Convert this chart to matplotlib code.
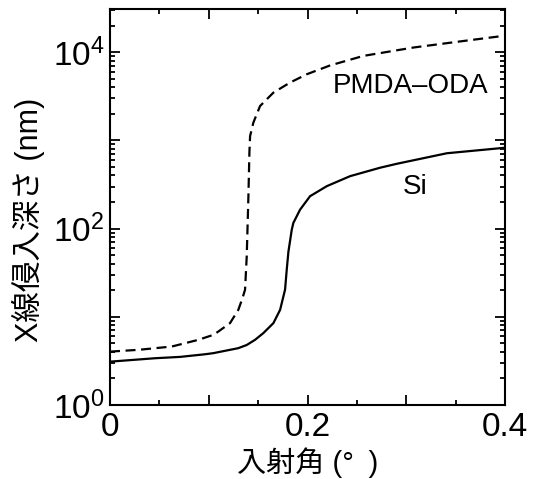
import numpy as np
import matplotlib.pyplot as plt
from matplotlib.ticker import FixedLocator, LogLocator, FuncFormatter, NullFormatter

plt.rcParams['font.family'] = ['Liberation Sans', 'Noto Sans CJK JP', 'DejaVu Sans']
plt.rcParams['mathtext.default'] = 'regular'

# incidence angle (deg) vs penetration depth (nm)
si_angle = [0, 0.0456, 0.0709, 0.0962, 0.1046, 0.1299, 0.1384, 0.1468, 0.1552, 0.1654,
            0.1722, 0.1755, 0.1772, 0.1789, 0.1806, 0.1840, 0.1856, 0.1924, 0.2025, 0.2195,
            0.2430, 0.2734, 0.2903, 0.3410, 0.4]
si_depth = [3.10, 3.39, 3.51, 3.76, 3.87, 4.41, 4.79, 5.48, 6.53, 8.48,
            12.0, 17.0, 20.3, 34.2, 54.8, 97.4, 116, 164, 233, 303,
            393, 490, 543, 715, 826]

pm_angle = [0, 0.0287, 0.0625, 0.0894, 0.1046, 0.1097, 0.1215, 0.1299, 0.1342,
            0.1367, 0.1384, 0.1401, 0.1411, 0.1418, 0.1451, 0.1519, 0.1654, 0.1823, 0.1992,
            0.2228, 0.2565, 0.3072, 0.3578, 0.4]
pm_depth = [4.03, 4.22, 4.60, 5.48, 6.24, 6.81, 8.48, 12.0, 16.4,
            20.3, 48.4, 233, 725, 1119, 1589, 2455, 3480, 4529, 5623,
            7080, 9080, 11300, 13400, 15400]

fig = plt.figure(figsize=(5.34, 4.79), dpi=100)
ax = fig.add_axes([0.206, 0.1545, 0.740, 0.827])

ax.plot(si_angle, si_depth, color='black', lw=1.6, solid_joinstyle='round')
ax.plot(pm_angle, pm_depth, color='black', lw=1.6, dashes=(4.5, 2.5),
        dash_joinstyle='round')

ax.set_yscale('log')
ax.set_xlim(0, 0.4)
ax.set_ylim(1, 3.1e4)

ax.xaxis.set_major_locator(FixedLocator([0, 0.1, 0.2, 0.3, 0.4]))
ax.xaxis.set_minor_locator(FixedLocator([0.05, 0.15, 0.25, 0.35]))
ax.xaxis.set_major_formatter(FuncFormatter(
    lambda v, p: {0: '0', 0.2: '0.2', 0.4: '0.4'}.get(round(v, 2), '')))

ax.yaxis.set_major_locator(FixedLocator([1, 10, 100, 1e3, 1e4]))
ax.yaxis.set_minor_locator(LogLocator(base=10, subs=np.arange(2, 10)))
ax.yaxis.set_minor_formatter(NullFormatter())
ax.yaxis.set_major_formatter(FuncFormatter(
    lambda v, p: '$10^{%d}$' % round(np.log10(v)) if round(np.log10(v)) % 2 == 0 else ''))

ax.tick_params(which='both', direction='in', top=True, right=True, width=1.3)
ax.tick_params(which='major', length=7, labelsize=24)
ax.tick_params(which='minor', length=3.5)
ax.tick_params(axis='x', pad=5)
ax.tick_params(axis='y', pad=4)
for s in ax.spines.values():
    s.set_linewidth(1.5)

ax.set_xlabel('入射角 (°\u2002)', fontsize=21,
              family=['Liberation Sans', 'Noto Sans CJK JP'])
ax.set_ylabel('X線侵入深さ (nm)', fontsize=22,
              family=['Liberation Sans', 'Noto Sans CJK JP'])
ax.xaxis.set_label_coords(0.5, -0.108)
ax.yaxis.set_label_coords(-0.165, 0.467)

ax.text(0.304, 4100, 'PMDA–ODA', fontsize=20, ha='center', va='center')
ax.text(0.309, 293, 'Si', fontsize=20, ha='center', va='center')

fig.savefig('out.png', dpi=100)
